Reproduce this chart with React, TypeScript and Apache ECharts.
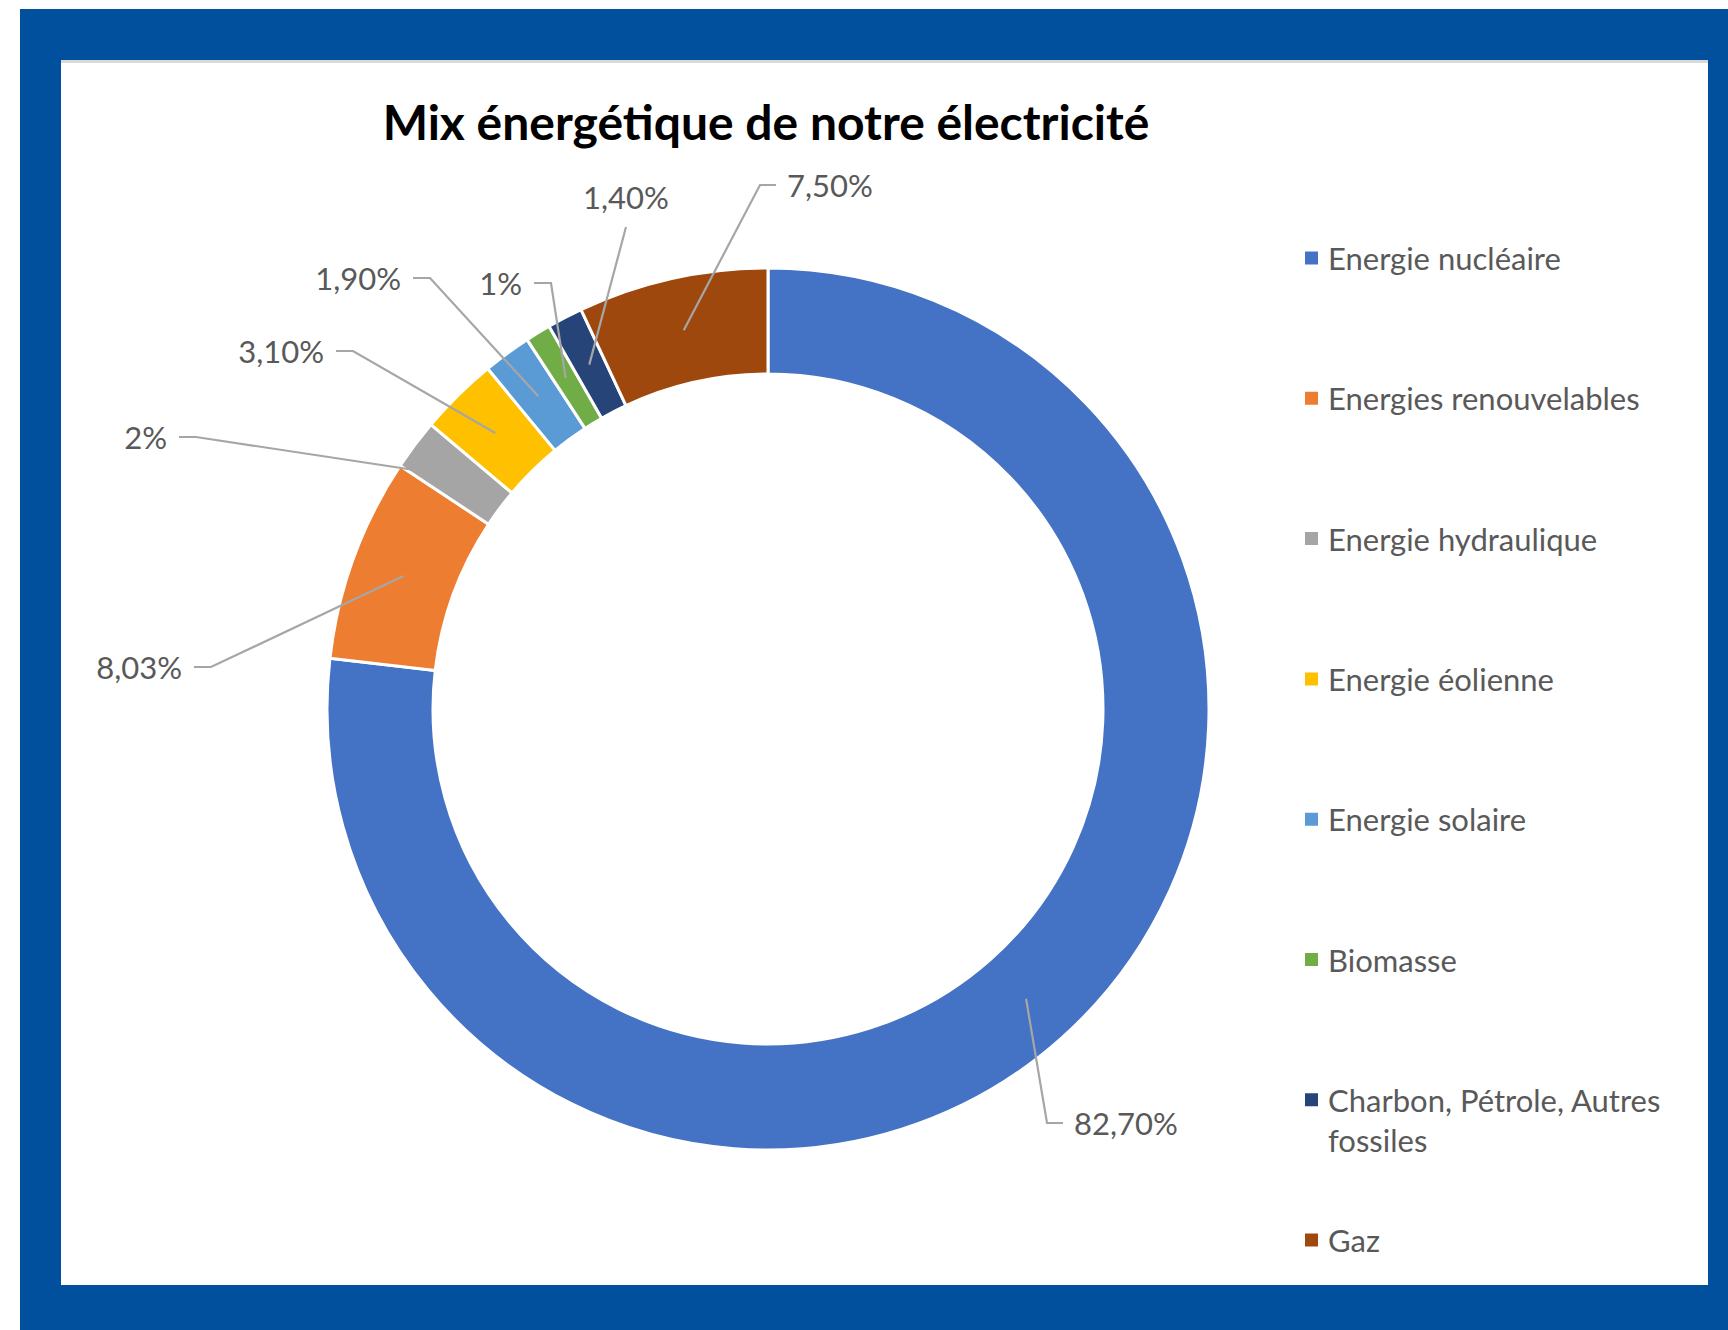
import React, { useEffect, useRef } from "react";
import * as echarts from "echarts";

// ---- Data ----
const categories = [
  "Energie nucléaire",
  "Energies renouvelables",
  "Energie hydraulique",
  "Energie éolienne",
  "Energie solaire",
  "Biomasse",
  "Charbon, Pétrole, Autres fossiles",
  "Gaz",
];
const values = [82.7, 8.03, 2, 3.1, 1.9, 1, 1.4, 7.5];
const legendTexts = [
  "Energie nucléaire",
  "Energies renouvelables",
  "Energie hydraulique",
  "Energie éolienne",
  "Energie solaire",
  "Biomasse",
  "Charbon, Pétrole, Autres\nfossiles",
  "Gaz",
];
const titleText = "Mix énergétique de notre électricité";

// ---- Styles / layout ----
const colors = ["#4472C4", "#ED7D31", "#A5A5A5", "#FFC000", "#5B9BD5", "#70AD47", "#264478", "#9E480E"];
const W = 1728;
const H = 1330;
const CX = 768;
const CY = 709;
const R_OUT = 441;
const R_IN = 335;
const R_LINE = 388;
const FONT = "Lato";
const TEXT_COLOR = "#595959";
const LINE_COLOR = "#A6A6A6";
// label anchor: x,y of text edge and side of the leader line
const labelAnchors = [
  { x: 1074, y: 1123, side: "left" },
  { x: 182, y: 667, side: "right" },
  { x: 167, y: 437, side: "right" },
  { x: 324, y: 351, side: "right" },
  { x: 401, y: 278, side: "right" },
  { x: 522, y: 283, side: "right" },
  { x: 626, y: 197, side: "top" },
  { x: 787, y: 185, side: "left" },
];
const LEGEND_LEFT = 1303;
const LEGEND_Y0 = 258;
const LEGEND_STEP = 140.3;
const LEGEND_LH = 40;

function fmt(v: number): string {
  return Number.isInteger(v) ? `${v}%` : v.toFixed(2).replace(".", ",") + "%";
}

export default function App() {
  const ref = useRef<HTMLDivElement>(null);
  useEffect(() => {
    if (!ref.current) return;
    const chart = echarts.init(ref.current, null, { renderer: "svg" });
    const total = values.reduce((a, b) => a + b, 0);

    const legends = categories.map((name, i) => {
      const cy = LEGEND_Y0 + i * LEGEND_STEP;
      const multi = legendTexts[i].includes("\n");
      return {
        data: [name],
        orient: "vertical",
        left: LEGEND_LEFT,
        top: multi ? cy - 1.5 * LEGEND_LH : cy - LEGEND_LH / 2,
        padding: 0,
        itemWidth: 15,
        itemHeight: 15,
        icon: "rect",
        selectedMode: false,
        formatter: () => (multi ? "\n" + legendTexts[i] : legendTexts[i]),
        textStyle: {
          fontFamily: FONT,
          fontSize: 31,
          color: TEXT_COLOR,
          lineHeight: LEGEND_LH,
          padding: [0, 0, 0, 4],
        },
      };
    });

    const pieData = categories.map((n, i) => ({ name: n, value: values[i], itemStyle: { color: colors[i] } }));

    const option: any = {
      animation: false,
      backgroundColor: "#ffffff",
      graphic: [
        { type: "rect", z: 0, silent: true, shape: { x: 20, y: 9, width: W - 20, height: H - 9 }, style: { fill: "#00509D" } },
        { type: "rect", z: 0, silent: true, shape: { x: 61, y: 60, width: 1647, height: 1225 }, style: { fill: "#ffffff" } },
        { type: "rect", z: 0, silent: true, shape: { x: 61, y: 60, width: 1647, height: 3 }, style: { fill: "#D9D9D9" } },
      ],
      title: {
        text: titleText,
        left: 766,
        top: 121,
        padding: 0,
        textAlign: "center",
        textVerticalAlign: "middle",
        textStyle: { fontFamily: FONT, fontWeight: "bold", fontSize: 48, color: "#000000" },
      },
      legend: legends,
      series: [
        {
          type: "pie",
          z: 2,
          center: [CX, CY],
          radius: [R_IN, R_OUT],
          startAngle: 90,
          clockwise: true,
          avoidLabelOverlap: false,
          emphasis: { disabled: true },
          itemStyle: { borderColor: "#ffffff", borderWidth: 3 },
          data: pieData,
          label: { show: false },
          labelLine: { show: false },
        },
        {
          // overlay carrying the data labels and leader lines, drawn above the ring
          type: "pie",
          z: 5,
          silent: true,
          center: [CX, CY],
          radius: [0, R_LINE],
          startAngle: 90,
          clockwise: true,
          avoidLabelOverlap: false,
          emphasis: { disabled: true },
          itemStyle: { color: "rgba(0,0,0,0)", borderWidth: 0 },
          data: categories.map((n, i) => ({ name: n, value: values[i] })),
          label: {
            show: true,
            position: "outside",
            formatter: (p: any) => fmt(p.value),
            fontFamily: FONT,
            fontSize: 31,
            color: TEXT_COLOR,
          },
          labelLine: { show: true, length: 10, length2: 10, lineStyle: { color: LINE_COLOR, width: 2.2 } },
          labelLayout: (params: any) => {
            const i = params.dataIndex;
            const a = labelAnchors[i];
            let cum = 0;
            for (let k = 0; k < i; k++) cum += values[k];
            const ang = ((cum + values[i] / 2) / total) * Math.PI * 2 - Math.PI / 2;
            const start = [CX + R_LINE * Math.cos(ang), CY + R_LINE * Math.sin(ang)];
            let elbow: number[];
            let end: number[];
            let align = "left";
            if (a.side === "left") {
              elbow = [a.x - 27, a.y];
              end = [a.x - 11, a.y];
              align = "left";
            } else if (a.side === "right") {
              elbow = [a.x + 29, a.y];
              end = [a.x + 12, a.y];
              align = "right";
            } else {
              elbow = [a.x, a.y + 30];
              end = [a.x, a.y + 30];
              align = "center";
            }
            return {
              x: a.x,
              y: a.y,
              align,
              verticalAlign: "middle",
              labelLinePoints: [start, elbow, end],
            };
          },
        },
      ],
    };
    chart.setOption(option);
    return () => chart.dispose();
  }, []);
  return (
    <div
      ref={ref}
      style={{ position: "absolute", left: 0, top: 0, width: W, height: H }}
    />
  );
}
